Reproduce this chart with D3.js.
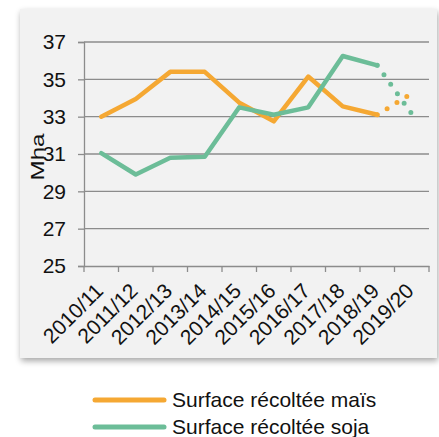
<!DOCTYPE html>
<html><head><meta charset="utf-8">
<script src="https://cdn.jsdelivr.net/npm/d3@7"></script>
<style>
html,body{margin:0;padding:0;background:#fff;}
svg{display:block;font-family:"Liberation Sans",Arial,sans-serif;}
</style></head>
<body>
<svg id="c" width="439" height="437"></svg>
<script>
const categories = ["2010/11","2011/12","2012/13","2013/14","2014/15","2015/16","2016/17","2017/18","2018/19","2019/20"];
const maisValues = [33.0, 33.95, 35.4, 35.4, 33.75, 32.75, 35.15, 33.55, 33.1, 34.25];
const sojaValues = [31.05, 29.9, 30.8, 30.85, 33.5, 33.1, 33.5, 36.25, 35.75, 33.15];
const yTicks = [25, 27, 29, 31, 33, 35, 37];
const seriesNames = ["Surface récoltée maïs", "Surface récoltée soja"];
const colors = ["#f5a833", "#6cbd98"];

(function(){
const FF = "Liberation Sans, Arial, sans-serif";
const svg = d3.select("#c");
const defs = svg.append("defs");
const f = defs.append("filter").attr("id","sh").attr("x","-5%").attr("y","-5%").attr("width","115%").attr("height","115%");
f.append("feGaussianBlur").attr("in","SourceAlpha").attr("stdDeviation",3);
f.append("feOffset").attr("dx",1).attr("dy",3).attr("result","b");
f.append("feComponentTransfer").append("feFuncA").attr("type","linear").attr("slope",0.35);
const m = f.append("feMerge"); m.append("feMergeNode"); m.append("feMergeNode").attr("in","SourceGraphic");

svg.append("rect").attr("x",20).attr("y",9).attr("width",417).attr("height",349)
  .attr("fill","#f2f2f2").attr("filter","url(#sh)");

const pl = 84, pr = 429, pt = 42, pb = 266;
const x = d3.scaleBand().domain(categories).range([pl,pr]);
const y = d3.scaleLinear().domain([25,37]).range([pb,pt]);
const cx = c => x(c) + x.bandwidth()/2;

svg.append("g").selectAll("line").data(yTicks.slice(1)).join("line")
  .attr("x1",pl).attr("x2",pr).attr("y1",d=>y(d)).attr("y2",d=>y(d))
  .attr("stroke","#8c8c8c").attr("stroke-width",1.3);

const yAxis = svg.append("g").attr("transform",`translate(${pl},0)`)
  .call(d3.axisLeft(y).tickValues(yTicks).tickSize(6).tickPadding(12));
yAxis.select(".domain").attr("stroke","#8c8c8c").attr("stroke-width",1.3);
yAxis.selectAll(".tick line").attr("stroke","#8c8c8c").attr("stroke-width",1.3);
yAxis.selectAll("text").attr("font-size",21).attr("fill","#111").attr("font-family",FF);

const xAxis = svg.append("g").attr("transform",`translate(0,${pb})`)
  .call(d3.axisBottom(x).tickValues([]).tickSizeOuter(0));
xAxis.select(".domain").attr("stroke","#8c8c8c").attr("stroke-width",1.3);
const edges = categories.map(c=>x(c)).concat([pr]);
xAxis.selectAll(".edge").data(edges).join("line").attr("class","edge")
  .attr("x1",d=>d).attr("x2",d=>d).attr("y1",0).attr("y2",6)
  .attr("stroke","#8c8c8c").attr("stroke-width",1.3);
xAxis.selectAll(".lbl").data(categories).join("text").attr("class","lbl")
  .attr("transform",d=>`translate(${cx(d)-2},${21}) rotate(-45)`)
  .attr("text-anchor","end").attr("dy","0.35em")
  .attr("font-size",21).attr("fill","#111").attr("font-family",FF).text(d=>d);

svg.append("text").attr("transform",`translate(44,157) rotate(-90)`)
  .attr("text-anchor","middle").attr("font-size",18).attr("fill","#111")
  .attr("textLength",47).attr("lengthAdjust","spacingAndGlyphs").text("Mha");

const line = d3.line().x(d=>cx(d.c)).y(d=>y(d.v));
[maisValues, sojaValues].forEach((vals,i)=>{
  const pts = vals.map((v,j)=>({c:categories[j],v}));
  svg.append("path").attr("d",line(pts.slice(0,9))).attr("fill","none")
    .attr("stroke",colors[i]).attr("stroke-width",4.5).attr("stroke-linejoin","round").attr("stroke-linecap","round");
  svg.append("path").attr("d",line(pts.slice(8))).attr("fill","none")
    .attr("stroke",colors[i]).attr("stroke-width",5).attr("stroke-linecap","round")
    .attr("stroke-dasharray","0 11.6");
});

seriesNames.forEach((n,i)=>{
  const ly = 400 + i*27;
  svg.append("line").attr("x1",95).attr("x2",164).attr("y1",ly).attr("y2",ly)
    .attr("stroke",colors[i]).attr("stroke-width",5).attr("stroke-linecap","round");
  svg.append("text").attr("x",172).attr("y",ly).attr("dy","0.35em")
    .attr("font-size",21).attr("fill","#111").text(n);
});
})();
</script>
</body></html>
